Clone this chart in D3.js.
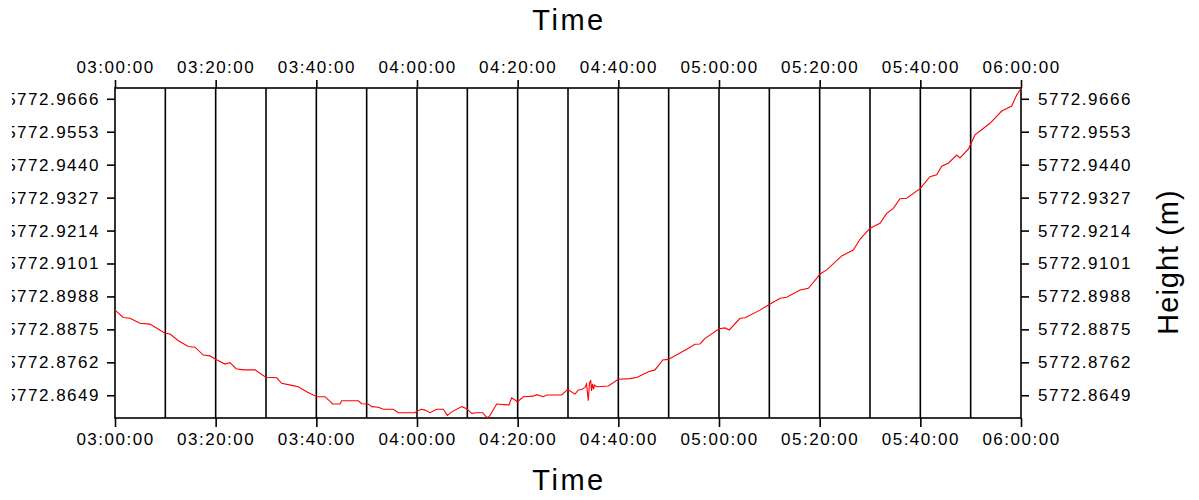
<!DOCTYPE html>
<html>
<head>
<meta charset="utf-8">
<script src="https://cdn.jsdelivr.net/npm/d3@7"></script>
<style>
  html, body { margin: 0; padding: 0; background: #fff; }
  svg { display: block; }
  .tick text { font-family: "Liberation Sans", Arial, sans-serif; font-size: 17px; letter-spacing: 1.5px; fill: #000; }
  .title { font-family: "Liberation Sans", Arial, sans-serif; font-size: 29px; fill: #000; }
</style>
</head>
<body>
<svg id="chart" width="1199" height="500"></svg>
<script>
// ---- data (minutes after 03:00:00, height in metres) ----
const minutes = [0, 1.65, 2.98, 4.97, 6.95, 9.93, 10.93, 12.58, 14.56, 15.89, 17.54, 18.87, 20.07, 21.85, 22.85,
  24.04, 25.49, 27.82, 29.94, 32.13, 33.12, 35.11, 36.42, 38.09, 40.07, 41.72, 43.25, 44.70, 45.04, 48.34,
  49.01, 50.33, 51.00, 52.31, 53.31, 55.29, 56.29, 59.60, 59.94, 60.93, 61.59, 62.58, 63.91, 65.23, 66.02,
  66.90, 68.88, 69.87, 70.87, 71.86, 73.05, 73.85, 74.31, 75.84, 77.82, 78.28, 78.81, 79.47, 79.93, 81.12,
  83.11, 83.78, 85.09, 85.77, 88.75, 89.94, 91.39, 92.05, 92.72, 93.38, 93.68, 94.03, 94.27, 94.51, 94.67,
  94.87, 95.07, 95.27, 95.70, 98.01, 99.99, 102.32, 103.77, 105.96, 107.29, 108.82, 109.93, 113.58, 115.23,
  116.23, 117.22, 120.06, 121.19, 122.05, 124.18, 125.17, 128.15, 130.14, 132.16, 133.45, 136.10, 137.74,
  139.41, 140.07, 141.40, 144.38, 146.68, 148.01, 150.00, 151.99, 153.32, 154.63, 155.96, 157.29, 159.94,
  161.92, 163.25, 164.25, 165.56, 167.23, 167.88, 169.53, 170.86, 173.84, 176.17, 178.15, 179.15, 179.80, 180];
const heights = [5772.8941, 5772.8916, 5772.8913, 5772.8896, 5772.8893, 5772.8862, 5772.8859, 5772.8836,
  5772.8816, 5772.8814, 5772.8787, 5772.8784, 5772.8772, 5772.8756, 5772.8761, 5772.8740, 5772.8736,
  5772.8736, 5772.8711, 5772.8709, 5772.8690, 5772.8683, 5772.8678, 5772.8661, 5772.8644, 5772.8644,
  5772.8619, 5772.8619, 5772.8630, 5772.8630, 5772.8620, 5772.8619, 5772.8610, 5772.8608, 5772.8601,
  5772.8601, 5772.8589, 5772.8589, 5772.8594, 5772.8601, 5772.8598, 5772.8589, 5772.8601, 5772.8601,
  5772.8580, 5772.8592, 5772.8610, 5772.8603, 5772.8587, 5772.8589, 5772.8589, 5772.8573, 5772.8575,
  5772.8619, 5772.8616, 5772.8616, 5772.8640, 5772.8633, 5772.8626, 5772.8644, 5772.8646, 5772.8651,
  5772.8644, 5772.8650, 5772.8650, 5772.8669, 5772.8653, 5772.8667, 5772.8669, 5772.8676, 5772.8688,
  5772.8630, 5772.8691, 5772.8701, 5772.8664, 5772.8688, 5772.8670, 5772.8684, 5772.8678, 5772.8681,
  5772.8704, 5772.8706, 5772.8711, 5772.8730, 5772.8736, 5772.8770, 5772.8772, 5772.8807, 5772.8824,
  5772.8825, 5772.8844, 5772.8877, 5772.8880, 5772.8873, 5772.8913, 5772.8915, 5772.8941, 5772.8962,
  5772.8982, 5772.8985, 5772.9010, 5772.9016, 5772.9050, 5772.9065, 5772.9079, 5772.9127, 5772.9147,
  5772.9184, 5772.9222, 5772.9239, 5772.9273, 5772.9290, 5772.9323, 5772.9325, 5772.9358, 5772.9399,
  5772.9405, 5772.9435, 5772.9445, 5772.9473, 5772.9463, 5772.9493, 5772.9542, 5772.9582, 5772.9624,
  5772.9641, 5772.9679, 5772.9696, 5772.9701];
const yTickValues = [5772.8649, 5772.8762, 5772.8875, 5772.8988, 5772.9101, 5772.9214, 5772.9327,
  5772.9440, 5772.9553, 5772.9666];
const xTickLabels = ["03:00:00", "03:20:00", "03:40:00", "04:00:00", "04:20:00", "04:40:00", "05:00:00",
  "05:20:00", "05:40:00", "06:00:00"];
const xTitle = "Time";
const yTitle = "Height (m)";

// ---- layout ----
const L = 115, R = 1021, T = 88, B = 418;
const svg = d3.select("#chart");
const parseT = d3.timeParse("%H:%M:%S");
const t0 = parseT("03:00:00"), t1 = parseT("06:00:00");
const x = d3.scaleTime().domain([t0, t1]).range([L, R]);
const y = d3.scaleLinear().domain([5772.8571, 5772.9703]).range([B, T]);
const data = minutes.map((m, i) => ({ t: new Date(t0.getTime() + m * 60000), v: heights[i] }));
const xTicks = xTickLabels.map(parseT);
const fmtT = d3.timeFormat("%H:%M:%S");
const fmtY = d3.format(".4f");

// vertical grid lines every 10 minutes
svg.append("g").selectAll("line")
  .data(d3.timeMinute.every(10).range(t0, t1).slice(1))
  .join("line")
  .attr("x1", d => x(d)).attr("x2", d => x(d))
  .attr("y1", T).attr("y2", B)
  .attr("stroke", "#000").attr("stroke-width", 1.6);

// axes
function styleAxis(g) {
  g.select(".domain").remove();
  g.selectAll(".tick line").attr("stroke", "#000").attr("stroke-width", 1.6);
  g.selectAll(".tick text").attr("font-family", null).attr("font-size", null);
}
svg.append("g").attr("transform", `translate(0,${B})`)
  .call(d3.axisBottom(x).tickValues(xTicks).tickFormat(fmtT).tickSize(9).tickPadding(6))
  .call(styleAxis);
svg.append("g").attr("transform", `translate(0,${T})`)
  .call(d3.axisTop(x).tickValues(xTicks).tickFormat(fmtT).tickSize(8).tickPadding(7))
  .call(styleAxis);

// the left labels are cut off at the picture's left edge in the reference
svg.append("defs").append("clipPath").attr("id", "leftclip")
  .append("rect").attr("x", 12 - L).attr("y", -10).attr("width", 1199).attr("height", 520);
svg.append("g").attr("transform", `translate(${L},0)`).attr("clip-path", "url(#leftclip)")
  .call(d3.axisLeft(y).tickValues(yTickValues).tickFormat(fmtY).tickSize(8).tickPadding(7))
  .call(styleAxis);
svg.append("g").attr("transform", `translate(${R},0)`)
  .call(d3.axisRight(y).tickValues(yTickValues).tickFormat(fmtY).tickSize(8).tickPadding(9))
  .call(styleAxis);

// frame
svg.append("rect").attr("x", L).attr("y", T).attr("width", R - L).attr("height", B - T)
  .attr("fill", "none").attr("stroke", "#000").attr("stroke-width", 1.6);

// line
svg.append("path").datum(data)
  .attr("fill", "none").attr("stroke", "#ff0000").attr("stroke-width", 1.1)
  .attr("d", d3.line().x(d => x(d.t)).y(d => y(d.v)));

// titles
svg.append("text").attr("class", "title").attr("x", (L + R) / 2 + 1).attr("y", 30)
  .attr("text-anchor", "middle").attr("letter-spacing", 2.5).text(xTitle);
svg.append("text").attr("class", "title").attr("x", (L + R) / 2 + 1).attr("y", 490)
  .attr("text-anchor", "middle").attr("letter-spacing", 2.5).text(xTitle);
svg.append("text").attr("class", "title")
  .attr("transform", `translate(1178,262) rotate(-90)`)
  .attr("text-anchor", "middle").attr("letter-spacing", 1).text(yTitle);
</script>
</body>
</html>
